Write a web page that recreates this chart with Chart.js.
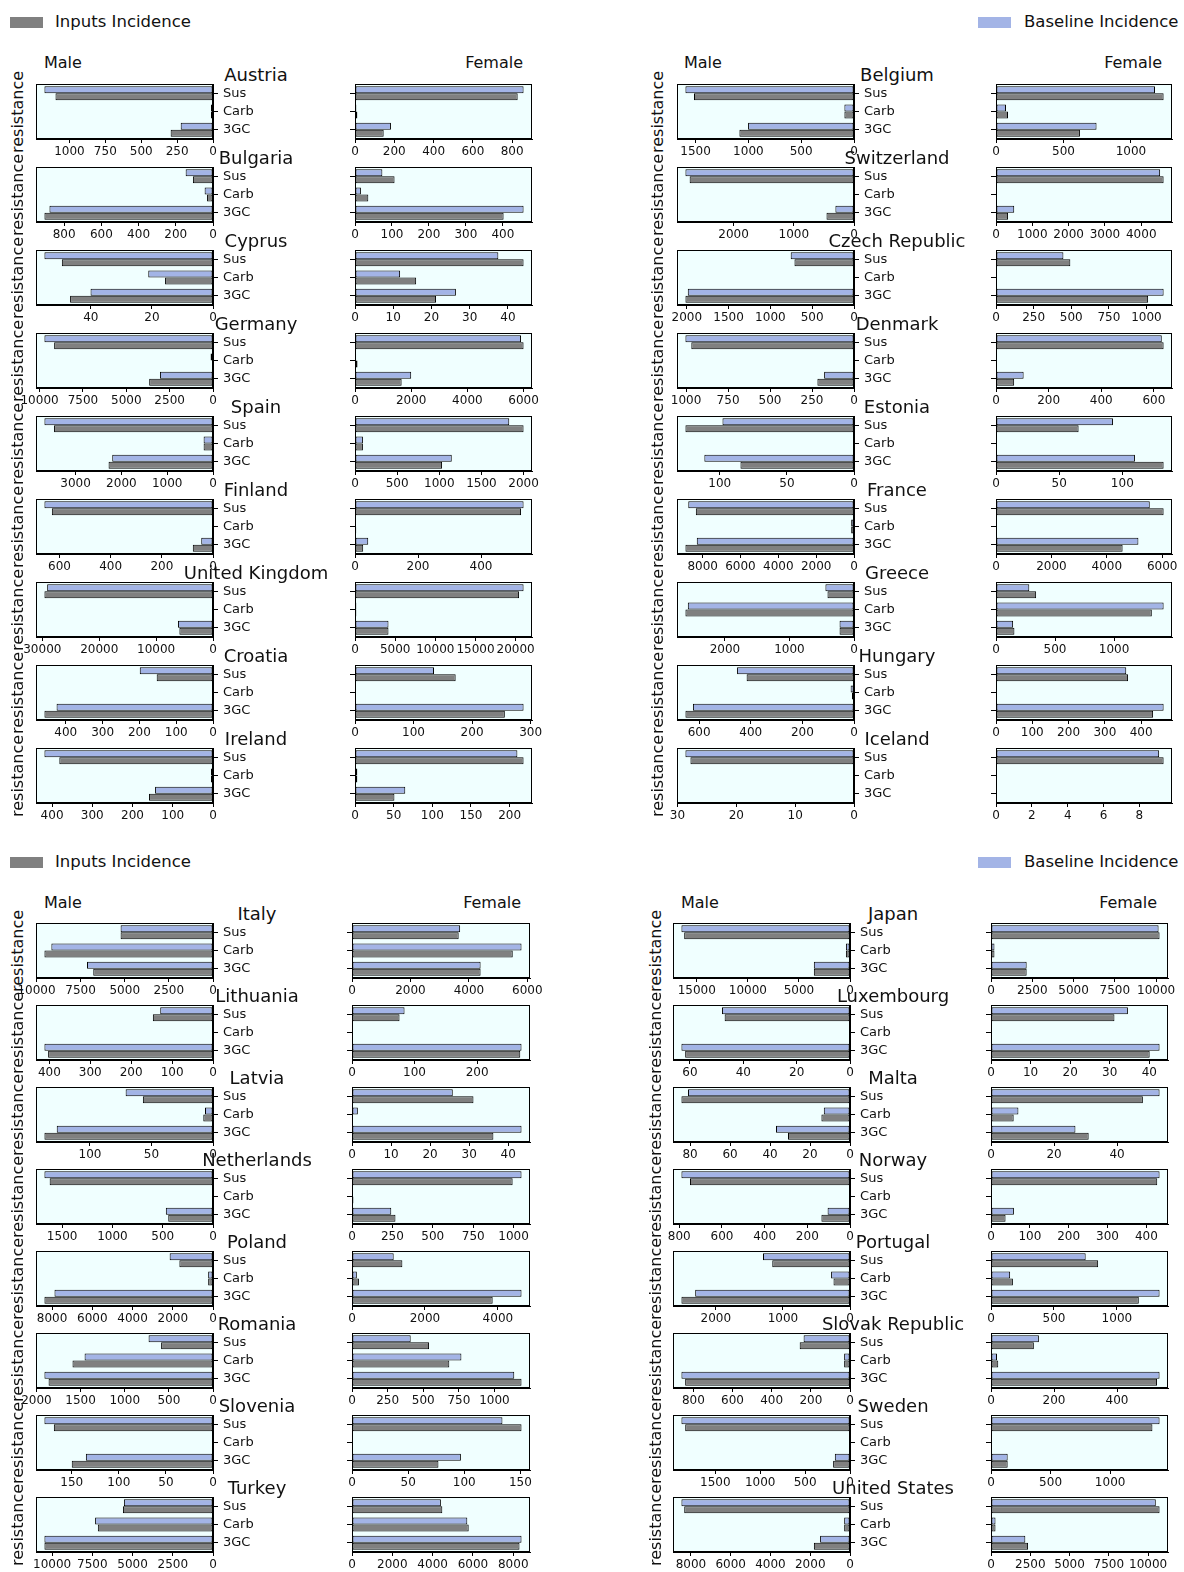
<!DOCTYPE html>
<html>
<head>
<meta charset="utf-8">
<script src="https://cdn.jsdelivr.net/npm/chart.js@4.4.1/dist/chart.umd.min.js"></script>
<style>
  body { margin: 0; background: #fff; width: 1184px; height: 1572px; position: relative; overflow: hidden;
         font-family: "DejaVu Sans", sans-serif; color: #111; }
  .txt { position: absolute; white-space: nowrap; line-height: 1; }
  canvas { position: absolute; }
  .swatch { position: absolute; width: 33px; height: 11px; }
</style>
</head>
<body>
<script>
// ---- data ----
const categories = ['Sus', 'Carb', '3GC'];

const countries = [
  'Austria', 'Bulgaria', 'Cyprus', 'Germany', 'Spain', 'Finland', 'United Kingdom', 'Croatia', 'Ireland',
  'Belgium', 'Switzerland', 'Czech Republic', 'Denmark', 'Estonia', 'France', 'Greece', 'Hungary', 'Iceland',
  'Italy', 'Lithuania', 'Latvia', 'Netherlands', 'Poland', 'Romania', 'Slovenia', 'Turkey',
  'Japan', 'Luxembourg', 'Malta', 'Norway', 'Portugal', 'Slovak Republic', 'Sweden', 'United States'
];

// [Sus, Carb, 3GC] per country, same order as countries
const baselineMale = [
  [1174, 14, 225], [147, 45, 879], [55.2, 21.2, 40.1], [9720, 140, 3060], [3680, 205, 2200],
  [659, 0, 46], [29150, 150, 6160], [199, 0, 425], [419, 5, 144],
  [1596, 91, 1003], [2800, 0, 309], [757, 0, 1988], [1004, 6, 178], [98, 0, 111.5],
  [8760, 150, 8310], [443, 2576, 224], [453, 13, 624], [28.65, 0, 0],
  [5235, 9157, 7137], [129, 0, 412], [71, 6.5, 127], [1676, 0, 469], [2155, 241, 7880],
  [730, 1455, 1910], [179, 0, 135], [5540, 7330, 10480],
  [16500, 400, 3540], [48, 0, 63.2], [81, 13.1, 37], [790, 0, 105], [1297, 282, 2308],
  [237, 30, 861], [1877, 8, 169], [8480, 294, 1505]
];
const inputsMale = [
  [1097, 14, 295], [108, 32, 906], [49.5, 15.7, 46.8], [9160, 40, 3680], [3470, 205, 2280],
  [630, 0, 79], [29630, 150, 5910], [153, 0, 458], [382, 5, 159],
  [1515, 91, 1085], [2730, 0, 457], [712, 0, 2016], [969, 6, 218], [125.6, 0, 84.6],
  [8360, 150, 8910], [411, 2613, 224], [416, 8, 653], [27.8, 0, 0],
  [5235, 9550, 6784], [147, 0, 403], [57, 7.9, 137], [1624, 0, 445], [1672, 241, 8380],
  [588, 1592, 1863], [169, 0, 150], [5600, 7160, 10480],
  [16230, 400, 3540], [47, 0, 61.8], [84.3, 14.3, 31], [750, 0, 134], [1159, 246, 2513],
  [257, 30, 842], [1835, 8, 188], [8340, 294, 1817]
];
const baselineFemale = [
  [858, 7, 183], [74, 16, 456], [37.5, 11.8, 26.4], [5910, 40, 2000], [1830, 94, 1148],
  [535, 0, 42], [20990, 170, 4170], [135, 0, 288], [210, 3, 65],
  [1178, 74, 745], [4520, 0, 502], [448, 0, 1114], [630, 0, 105], [92.6, 0, 110],
  [5550, 0, 5140], [282, 1420, 145], [359, 0, 462], [9.1, 0, 0],
  [3700, 5800, 4400], [84, 0, 271], [25.8, 1.5, 43.4], [1049, 0, 243], [1143, 133, 4648],
  [412, 768, 1139], [134, 0, 97], [4410, 5720, 8410],
  [10150, 210, 2160], [34.6, 0, 42.6], [53.5, 8.7, 26.8], [434, 0, 59], [752, 152, 1339],
  [152, 19, 535], [1415, 0, 140], [10490, 287, 2185]
];
const inputsFemale = [
  [828, 12, 146], [107, 36, 402], [44.1, 16, 21.2], [6000, 90, 1660], [2000, 94, 1033],
  [527, 4, 26], [20430, 170, 4170], [172, 0, 256], [218, 3, 51],
  [1242, 89, 622], [4616, 0, 332], [494, 0, 1011], [637, 0, 69], [65.4, 0, 132.7],
  [6050, 0, 4570], [340, 1320, 156], [364, 0, 433], [9.35, 0, 0],
  [3650, 5500, 4400], [76, 0, 269], [31.1, 0, 36.2], [994, 9, 269], [1381, 190, 3857],
  [541, 683, 1190], [151, 0, 77], [4480, 5790, 8310],
  [10210, 210, 2160], [31.2, 0, 40.1], [48.2, 7.2, 31], [428, 0, 37.5], [851, 174, 1174],
  [136, 23, 527], [1355, 0, 140], [10730, 287, 2360]
];

// tick spacing of the x axis, per country
const maleTickStep = [
  250, 200, 20, 2500, 1000, 200, 10000, 100, 100,
  500, 1000, 500, 250, 50, 2000, 1000, 200, 10,
  2500, 100, 50, 500, 2000, 500, 50, 2500,
  5000, 20, 20, 200, 1000, 200, 500, 2000
];
const femaleTickStep = [
  200, 100, 10, 2000, 500, 200, 5000, 100, 50,
  500, 1000, 250, 200, 50, 2000, 500, 100, 2,
  2000, 100, 10, 250, 2000, 250, 50, 2000,
  2500, 10, 20, 100, 500, 200, 500, 2500
];

const seriesNames = ['Baseline Incidence', 'Inputs Incidence'];

// ---- layout ----
const BLUE = '#a3b4e6';
const GRAY = '#808080';
const PANEL_H = 55;
const PAD_T = 6;
const X_AXIS_H = 22;

const blocks = [
  { first: 0,  count: 9, mx: [36, 213],  fx: [355, 532],  top: 84,  pitch: 83, titleX: 256, resX: 18,  maleX: 44,  femaleR: 523,  headY: 63 },
  { first: 9,  count: 9, mx: [677, 854], fx: [996, 1172], top: 84,  pitch: 83, titleX: 897, resX: 658, maleX: 684, femaleR: 1162, headY: 63 },
  { first: 18, count: 8, mx: [36, 213],  fx: [352, 530],  top: 923, pitch: 82, titleX: 257, resX: 18,  maleX: 44,  femaleR: 521,  headY: 903 },
  { first: 26, count: 8, mx: [673, 850], fx: [991, 1168], top: 923, pitch: 82, titleX: 893, resX: 656, maleX: 681, femaleR: 1157, headY: 903 }
];
const legendRows = [22, 862];

function addText(str, x, y, size, anchor, rotate) {
  const d = document.createElement('div');
  d.className = 'txt';
  d.textContent = str;
  d.style.left = x + 'px';
  d.style.top = y + 'px';
  d.style.fontSize = size + 'px';
  let tx = anchor === 'left' ? '0' : anchor === 'right' ? '-100%' : '-50%';
  d.style.transform = `translate(${tx}, -50%)` + (rotate ? ' rotate(-90deg)' : '');
  document.body.appendChild(d);
}

function addSwatch(x, y, color) {
  const s = document.createElement('div');
  s.className = 'swatch';
  s.style.left = x + 'px';
  s.style.top = (y - 5) + 'px';
  s.style.background = color;
  document.body.appendChild(s);
}

// background + full box around each panel, like matplotlib axes
const framePlugin = {
  id: 'frame',
  beforeDraw(chart) {
    const { ctx, chartArea: a } = chart;
    ctx.save();
    ctx.fillStyle = '#f0ffff';
    ctx.fillRect(a.left, a.top, a.right - a.left, a.bottom - a.top);
    ctx.restore();
  },
  afterDraw(chart) {
    const { ctx, chartArea: a } = chart;
    ctx.save();
    ctx.strokeStyle = '#000';
    ctx.lineWidth = 1;
    ctx.strokeRect(Math.round(a.left) + 0.5, Math.round(a.top) + 0.5,
                   Math.round(a.right - a.left) - 1, Math.round(a.bottom - a.top) - 1);
    ctx.restore();
  }
};

function fixSize(prop, size) {
  return function (scale) {
    scale[prop] = size;
    scale.paddingTop = 0; scale.paddingBottom = 0;
    scale.paddingLeft = 0; scale.paddingRight = 0;
  };
}

// matplotlib-like ticks: multiples of the step inside [0, max]
function stepTicks(step) {
  return function (scale) {
    const ticks = [];
    for (let k = 0; k * step <= scale.max + 1e-9; k++) ticks.push({ value: k * step });
    scale.ticks = ticks;
  };
}

function makePanel(x0, x1, top, base, inputs, step, male) {
  const w = x1 - x0;
  const padL = male ? 30 : 0;
  const padR = male ? 0 : 24;
  const yW = male ? 46 : 6;
  const canvas = document.createElement('canvas');
  canvas.width = padL + w + yW + padR;
  canvas.height = PAD_T + PANEL_H + X_AXIS_H;
  canvas.style.left = (male ? x0 - padL : x0 - yW) + 'px';
  canvas.style.top = (top - PAD_T) + 'px';
  document.body.appendChild(canvas);

  const maxVal = Math.max(...base, ...inputs) * 1.05;

  new Chart(canvas, {
    type: 'bar',
    data: {
      labels: categories,
      datasets: [
        { label: seriesNames[0], data: base, backgroundColor: BLUE, borderColor: '#000', borderWidth: 1, borderSkipped: false },
        { label: seriesNames[1], data: inputs, backgroundColor: GRAY, borderColor: '#000', borderWidth: 1, borderSkipped: false }
      ]
    },
    options: {
      indexAxis: 'y',
      responsive: false,
      animation: false,
      devicePixelRatio: 1,
      layout: { padding: { left: padL, right: padR, top: PAD_T, bottom: 0 } },
      datasets: { bar: { categoryPercentage: 0.76, barPercentage: 1.0 } },
      plugins: { legend: { display: false }, tooltip: { enabled: false } },
      scales: {
        x: {
          type: 'linear',
          reverse: male,
          min: 0,
          max: maxVal,
          afterBuildTicks: stepTicks(step),
          ticks: {
            autoSkip: false, maxRotation: 0, padding: 2,
            color: '#111', font: { family: 'DejaVu Sans', size: 12 },
            callback: v => String(v)
          },
          grid: { drawOnChartArea: false, tickLength: 4, color: '#000' },
          border: { color: '#000' },
          afterFit: fixSize('height', X_AXIS_H)
        },
        y: {
          position: male ? 'right' : 'left',
          ticks: {
            display: male, autoSkip: false, padding: 5, color: '#111',
            font: { family: 'DejaVu Sans', size: 13 }
          },
          grid: { drawOnChartArea: false, offset: false, tickLength: 5, color: '#000' },
          border: { color: '#000' },
          afterFit: fixSize('width', yW)
        }
      }
    },
    plugins: [framePlugin]
  });
}

// legends
legendRows.forEach(y => {
  addSwatch(10, y, GRAY);
  addText('Inputs Incidence', 55, y, 16.5, 'left');
  addSwatch(978, y, BLUE);
  addText('Baseline Incidence', 1024, y, 16.5, 'left');
});

blocks.forEach(b => {
  addText('Male', b.maleX, b.headY, 16, 'left');
  addText('Female', b.femaleR, b.headY, 16, 'right');
  for (let r = 0; r < b.count; r++) {
    const i = b.first + r;
    const top = b.top + r * b.pitch;
    addText(countries[i], b.titleX, top - 9, 18, 'center');
    addText('resistance', b.resX, top + PANEL_H / 2, 16, 'center', true);
    makePanel(b.mx[0], b.mx[1], top, baselineMale[i], inputsMale[i], maleTickStep[i], true);
    makePanel(b.fx[0], b.fx[1], top, baselineFemale[i], inputsFemale[i], femaleTickStep[i], false);
  }
});
</script>
</body>
</html>
